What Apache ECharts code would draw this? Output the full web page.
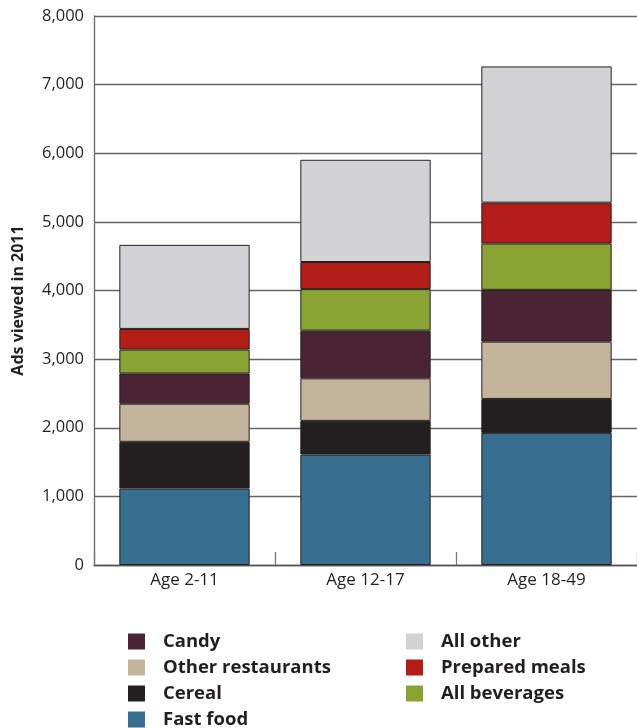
<!DOCTYPE html>
<html>
<head>
<meta charset="utf-8">
<script src="https://cdn.jsdelivr.net/npm/echarts@6/dist/echarts.min.js"></script>
<style>
  html, body { margin: 0; padding: 0; background: #fff; }
  #chart { width: 637px; height: 728px; }
</style>
</head>
<body>
<div id="chart"></div>
<script>
var categories = ['Age 2-11', 'Age 12-17', 'Age 18-49'];

// stacked from the bottom up
var fastFood = [1115, 1610, 1925];
var cereal = [680, 490, 495];
var otherRestaurants = [555, 620, 835];
var candy = [440, 695, 755];
var allBeverages = [350, 605, 675];
var preparedMeals = [300, 395, 595];
var allOther = [1225, 1490, 1985];

var yTicks = [0, 1000, 2000, 3000, 4000, 5000, 6000, 7000, 8000];

(function() {
  var chart = echarts.init(document.getElementById('chart'), null, { renderer: 'canvas' });
  var font = '"Open Sans", "Noto Sans", sans-serif';

  function bar(name, values, color) {
    return {
      name: name,
      type: 'bar',
      stack: 'ads',
      barWidth: '72%',
      data: values,
      itemStyle: { color: color, borderColor: '#231f20', borderWidth: 1 },
      emphasis: { disabled: true }
    };
  }

  var legendText = {
    fontFamily: font, fontWeight: 'bold', fontSize: 18.5, color: '#231f20',
    lineHeight: 16, padding: [0, 0, 0, 13]
  };
  var legendBase = {
    orient: 'vertical',
    top: 632, height: 120, padding: 0,
    icon: 'rect', itemWidth: 17, itemHeight: 16, itemGap: 7,
    itemStyle: { borderWidth: 0 },
    textStyle: legendText
  };

  var option = {
    animation: false,
    grid: { left: 94, right: -6, top: 16, bottom: 163, containLabel: false },
    legend: [
      Object.assign({}, legendBase, { left: 128, data: ['Candy', 'Other restaurants', 'Cereal', 'Fast food'] }),
      Object.assign({}, legendBase, { left: 406, data: ['All other', 'Prepared meals', 'All beverages'] })
    ],
    xAxis: {
      type: 'category',
      data: categories,
      axisLine: { lineStyle: { color: '#555', width: 1.3 } },
      axisTick: { show: true, inside: true, length: 13, lineStyle: { color: '#777', width: 1.3 } },
      axisLabel: { fontFamily: font, fontSize: 17, color: '#231f20', margin: 7 }
    },
    yAxis: {
      type: 'value',
      min: yTicks[0], max: yTicks[yTicks.length - 1], interval: 1000,
      name: 'Ads viewed in 2011',
      nameLocation: 'middle',
      nameGap: 68,
      nameTextStyle: { fontFamily: font, fontWeight: 'bold', fontSize: 16, color: '#231f20', padding: [0, 20, 0, 0] },
      axisLine: { show: true, lineStyle: { color: '#666', width: 1.3 } },
      axisTick: { show: false },
      axisLabel: {
        fontFamily: font, fontSize: 16.5, color: '#231f20', margin: 10,
        formatter: function(v) { return v.toLocaleString('en-US'); }
      },
      splitLine: { lineStyle: { color: '#666', width: 1.3 } }
    },
    series: [
      bar('Fast food', fastFood, '#386e8f'),
      bar('Cereal', cereal, '#231f20'),
      bar('Other restaurants', otherRestaurants, '#c4b49c'),
      bar('Candy', candy, '#4a2432'),
      bar('All beverages', allBeverages, '#89a433'),
      bar('Prepared meals', preparedMeals, '#b21d18'),
      bar('All other', allOther, '#d3d3d5')
    ]
  };

  chart.setOption(option);
  window.addEventListener('resize', function() { chart.resize(); });
})();
</script>
</body>
</html>
